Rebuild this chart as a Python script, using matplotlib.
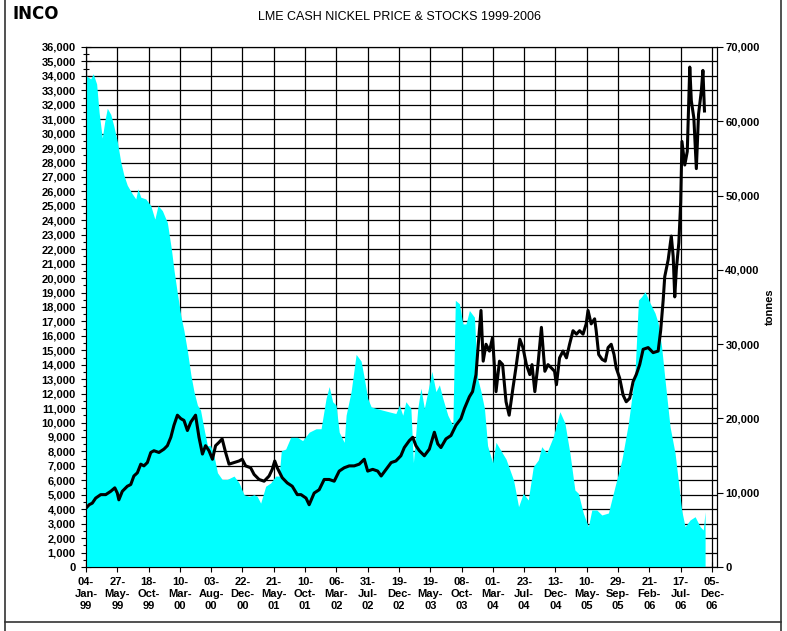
import matplotlib.pyplot as plt
from matplotlib.lines import Line2D
from matplotlib.ticker import MultipleLocator, FuncFormatter

plt.rcParams['font.family'] = ['Liberation Sans', 'DejaVu Sans']

# x axis = LME trading day number counted from 04-Jan-99
tick_days = list(range(0, 2001, 100))
tick_labels = ['04-\nJan-\n99', '27-\nMay-\n99', '18-\nOct-\n99', '10-\nMar-\n00',
               '03-\nAug-\n00', '22-\nDec-\n00', '21-\nMay-\n01', '10-\nOct-\n01',
               '06-\nMar-\n02', '31-\nJul-\n02', '19-\nDec-\n02', '19-\nMay-\n03',
               '08-\nOct-\n03', '01-\nMar-\n04', '23-\nJul-\n04', '13-\nDec-\n04',
               '10-\nMay-\n05', '29-\nSep-\n05', '21-\nFeb-\n06', '17-\nJul-\n06',
               '05-\nDec-\n06']

# LME nickel stocks (tonnes)
stock_day = [0, 15, 23, 34, 42, 52, 60, 68, 79, 89, 100, 111, 121, 132, 148, 159,
             166, 175, 191, 207, 220, 230, 244, 260, 273, 281, 292, 303, 313, 324,
             335, 345, 356, 366, 377, 388, 398, 409, 420, 435, 451, 473, 489, 505,
             521, 537, 547, 558, 574, 590, 606, 617, 624, 638, 654, 675, 692, 713,
             735, 751, 767, 777, 788, 799, 809, 825, 831, 847, 863, 879, 889, 900,
             911, 927, 948, 969, 990, 1001, 1012, 1022, 1038, 1046, 1060, 1070, 1081,
             1092, 1105, 1118, 1129, 1140, 1156, 1172, 1180, 1193, 1204, 1214, 1225,
             1241, 1251, 1262, 1273, 1283, 1299, 1310, 1326, 1342, 1366, 1382, 1397,
             1413, 1429, 1445, 1456, 1472, 1493, 1514, 1530, 1546, 1562, 1573, 1589,
             1605, 1616, 1632, 1648, 1669, 1690, 1712, 1733, 1754, 1765, 1775, 1786,
             1802, 1818, 1828, 1839, 1850, 1866, 1882, 1892, 1903, 1914, 1930, 1946,
             1962, 1972, 1978]
stock_tonnes = [66160, 65710, 66400, 65030, 61150, 57750, 60020, 61750, 60940, 59340,
                57290, 54560, 52750, 51380, 50230, 49550, 50910, 49780, 49550, 48650,
                46820, 48650, 47970, 46360, 42730, 40000, 36810, 33850, 31800, 29070,
                25890, 23610, 21790, 21110, 18620, 16340, 16340, 14970, 12690, 11790,
                11790, 12240, 11320, 9730, 9510, 9730, 9510, 8590, 10870, 11320,
                12240, 12240, 15640, 15880, 17460, 17460, 17010, 18150, 18610, 18610,
                22700, 24290, 22250, 21790, 18150, 16780, 20430, 23610, 28620, 27710,
                25440, 22700, 21560, 21350, 21110, 20880, 20660, 21790, 20430, 22250,
                21350, 14050, 21350, 24070, 21350, 23610, 26340, 23610, 24520, 22700,
                20430, 19060, 35900, 35440, 32720, 32720, 34530, 33630, 25440, 23610,
                21350, 16340, 14050, 16780, 15640, 14520, 11710, 8120, 9920, 9020,
                13500, 14400, 16200, 15350, 17540, 20910, 19390, 15350, 10370, 9920,
                7230, 5430, 7670, 7670, 7000, 7270, 10810, 14400, 19390, 26120,
                35940, 36390, 37060, 35540, 34190, 32850, 29660, 25170, 18890, 15350,
                11710, 7670, 5430, 6330, 6770, 5430, 4980, 7440]

# LME cash nickel price (US$/tonne)
price_day = [0, 10, 20, 31, 47, 63, 79, 92, 100, 105, 116, 132, 143, 153, 164, 175,
             185, 196, 207, 217, 233, 249, 260, 271, 281, 292, 303, 313, 324, 335,
             350, 361, 372, 382, 393, 404, 414, 425, 435, 446, 457, 473, 489, 499,
             510, 526, 537, 553, 569, 585, 595, 603, 611, 627, 643, 659, 675, 687,
             703, 713, 729, 745, 761, 777, 793, 809, 825, 841, 857, 873, 889, 900,
             916, 932, 943, 959, 975, 990, 1006, 1017, 1033, 1044, 1054, 1065, 1081,
             1097, 1113, 1124, 1134, 1150, 1166, 1182, 1198, 1209, 1225, 1235, 1246,
             1255, 1262, 1269, 1278, 1289, 1299, 1310, 1321, 1331, 1342, 1352, 1364,
             1375, 1386, 1396, 1407, 1418, 1425, 1434, 1444, 1455, 1466, 1476, 1487,
             1497, 1503, 1513, 1524, 1535, 1545, 1556, 1567, 1577, 1588, 1598, 1604,
             1614, 1625, 1630, 1638, 1649, 1659, 1668, 1678, 1687, 1694, 1705, 1716,
             1726, 1737, 1748, 1758, 1769, 1780, 1796, 1812, 1828, 1836, 1844, 1849,
             1860, 1870, 1876, 1881, 1886, 1894, 1900, 1904, 1913, 1921, 1929, 1934,
             1942, 1950, 1957, 1966, 1971, 1976]
price_usd = [4070, 4310, 4420, 4770, 5010, 5010, 5240, 5480, 5120, 4650, 5240, 5590,
             5710, 6300, 6520, 7120, 7000, 7230, 7930, 8050, 7930, 8160, 8400, 8980,
             9810, 10510, 10270, 10150, 9450, 10040, 10510, 8980, 7820, 8400, 8050,
             7460, 8400, 8630, 8870, 7930, 7120, 7230, 7340, 7460, 7000, 6870, 6410,
             6060, 5940, 6300, 6760, 7340, 6870, 6180, 5820, 5590, 5010, 5010, 4770,
             4310, 5120, 5350, 6060, 6060, 5940, 6640, 6870, 7000, 7000, 7120, 7460,
             6640, 6760, 6640, 6300, 6760, 7230, 7340, 7700, 8270, 8750, 8980, 8400,
             8050, 7700, 8160, 9330, 8520, 8270, 8870, 9100, 9810, 10270, 10970, 11790,
             12140, 13320, 15890, 17760, 14250, 15420, 14950, 15890, 12140, 14250,
             14020, 11440, 10510, 12380, 14010, 15770, 15190, 14010, 13320, 14010,
             12140, 14010, 16590, 13550, 14010, 13780, 13550, 12620, 14480, 14950,
             14480, 15420, 16360, 16120, 16360, 16120, 16830, 17760, 16830, 17180,
             16360, 14710, 14370, 14250, 15190, 15420, 14710, 13780, 13080, 11900,
             11440, 11680, 12840, 13320, 14010, 15070, 15190, 14840, 14950, 16360,
             18460, 20100, 21270, 22910, 21510, 18700, 20570, 22440, 25250, 29460,
             27830, 28760, 34610, 32270, 31090, 27580, 31340, 32970, 34380, 31570]

W, H = 787, 631
fig = plt.figure(figsize=(W / 100, H / 100), dpi=100)
rect = [86 / W, 64 / H, 631 / W, 520 / H]

# price axis (left) carries the grid
ax = fig.add_axes(rect)
ax.set_xlim(0, 2016)
ax.set_ylim(0, 36000)
ax.set_xticks(tick_days)
ax.set_xticklabels(tick_labels)
ax.yaxis.set_major_locator(MultipleLocator(1000))
ax.yaxis.set_minor_locator(MultipleLocator(500))
ax.yaxis.set_major_formatter(FuncFormatter(lambda v, p: format(int(v), ',')))
ax.grid(True, which='major', color='black', linewidth=0.9)
ax.tick_params(axis='both', which='major', direction='inout', length=7, width=0.8,
               labelsize=8, pad=4)
ax.tick_params(axis='y', which='minor', direction='inout', length=4, width=0.8)
for lab in ax.get_xticklabels() + ax.get_yticklabels():
    lab.set_fontweight('bold')
for s in ax.spines.values():
    s.set_linewidth(0.8)

# stocks axis (right), cyan area over the grid
ax2 = ax.twinx()
ax2.set_ylim(0, 70000)
ax2.fill_between(stock_day, stock_tonnes, color='#00FFFF', linewidth=0)
ax2.yaxis.set_major_locator(MultipleLocator(10000))
ax2.yaxis.set_major_formatter(FuncFormatter(lambda v, p: format(int(v), ',')))
ax2.tick_params(axis='y', direction='out', length=4, width=0.8, labelsize=8, pad=2)
for lab in ax2.get_yticklabels():
    lab.set_fontweight('bold')
ax2.set_ylabel('tonnes', fontsize=8, fontweight='bold', labelpad=4)
for s in ax2.spines.values():
    s.set_linewidth(0.8)

# price line on top, same scale as the left axis
ax3 = fig.add_axes(rect, sharex=ax, sharey=ax)
ax3.axis('off')
ax3.plot(price_day, price_usd, color='black', linewidth=2.2)

fig.text(399 / W, 1 - 17 / H, 'LME CASH NICKEL PRICE & STOCKS 1999-2006',
         ha='center', va='center', fontsize=9)
fig.text(12 / W, 1 - 14 / H, 'INCO', ha='left', va='center', fontsize=12,
         fontweight='heavy', family='DejaVu Sans')

# page frame
fig.add_artist(Line2D([5 / W, 5 / W], [0, 1], color='#333333', linewidth=1.2))
fig.add_artist(Line2D([781 / W, 781 / W], [0, 1], color='#333333', linewidth=1.2))
fig.add_artist(Line2D([5 / W, 781 / W], [9 / H, 9 / H], color='#333333', linewidth=1.2))

fig.savefig('out.png', dpi=100)
